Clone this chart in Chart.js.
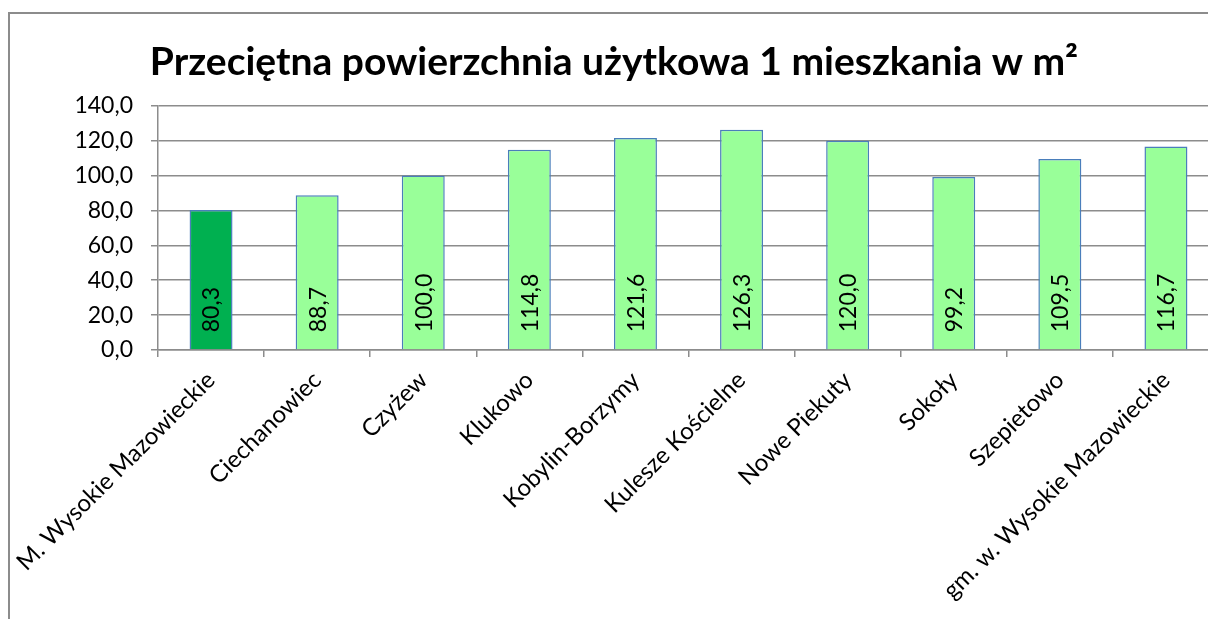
<!DOCTYPE html>
<html>
<head>
<meta charset="utf-8">
<script src="https://cdn.jsdelivr.net/npm/chart.js@4.4.1/dist/chart.umd.min.js"></script>
<style>
html, body { margin: 0; padding: 0; overflow: hidden; background: #fff; }
#wrap { position: absolute; left: 0; top: 0; width: 1228px; height: 619px; }
#frame { position: absolute; left: 8px; top: 12px; width: 1300px; height: 700px; border: 2px solid #8c8c8c; box-sizing: border-box; pointer-events: none; }
</style>
</head>
<body>
<div id="wrap"><canvas id="chart" width="1228" height="619"></canvas></div>
<div id="frame"></div>
<script>
// Data
const categories = [
    'M. Wysokie Mazowieckie', 'Ciechanowiec', 'Czyżew', 'Klukowo', 'Kobylin-Borzymy',
    'Kulesze Kościelne', 'Nowe Piekuty', 'Sokoły', 'Szepietowo', 'gm. w. Wysokie Mazowieckie'
];
const values = [80.3, 88.7, 100.0, 114.8, 121.6, 126.3, 120.0, 99.2, 109.5, 116.7];
const yMin = 0;
const yMax = 140;
const yStep = 20;
const titleText = 'Przeciętna powierzchnia użytkowa 1 mieszkania w m²';

const gridColor = '#8c8c8c';
const fontFamily = 'Lato';

function fmt(v) {
    return v.toFixed(1).replace('.', ',');
}

// Rotated value labels near the bottom of each bar
const valueLabels = {
    id: 'valueLabels',
    afterDatasetsDraw(chart) {
        const ctx = chart.ctx;
        const meta = chart.getDatasetMeta(0);
        ctx.save();
        ctx.font = '23px ' + fontFamily;
        ctx.fillStyle = '#000';
        ctx.textAlign = 'left';
        ctx.textBaseline = 'middle';
        meta.data.forEach(function(bar, i) {
            ctx.save();
            ctx.translate(bar.x + 1, bar.base - 17);
            ctx.rotate(-Math.PI / 2);
            ctx.fillText(fmt(values[i]), 0, 0);
            ctx.restore();
        });
        ctx.restore();
    }
};

const ctx = document.getElementById('chart').getContext('2d');
new Chart(ctx, {
    type: 'bar',
    data: {
        labels: categories,
        datasets: [{
            data: values,
            backgroundColor: function(c) { return c.dataIndex === 0 ? '#00b050' : '#99ff99'; },
            borderColor: '#4a7ebb',
            borderWidth: 1.5,
            barPercentage: 0.405,
            categoryPercentage: 1
        }]
    },
    options: {
        responsive: false,
        animation: false,
        devicePixelRatio: 1,
        layout: { padding: { left: 9, right: 9, top: 0, bottom: 0 } },
        plugins: {
            legend: { display: false },
            tooltip: { enabled: false },
            title: {
                display: true,
                text: titleText,
                color: '#000',
                font: { family: fontFamily, size: 39, weight: 'bold', lineHeight: 1.2 },
                padding: { top: 39, bottom: 20 }
            }
        },
        scales: {
            x: {
                offset: true,
                grid: { display: true, drawOnChartArea: false, drawTicks: true, tickLength: 7, color: gridColor, lineWidth: 1.5, offset: true },
                border: { display: true, color: gridColor, width: 1.5 },
                ticks: {
                    color: '#000',
                    font: { family: fontFamily, size: 24 },
                    minRotation: 45,
                    maxRotation: 45,
                    autoSkip: false,
                    padding: 9
                },
                afterFit: function(scale) {
                    scale.height = 269;
                    scale.paddingLeft = 0;
                    scale.paddingRight = 0;
                }
            },
            y: {
                min: yMin,
                max: yMax,
                grid: { color: gridColor, lineWidth: 1.5, tickLength: 7, drawTicks: true },
                border: { display: true, color: gridColor, width: 1.5 },
                ticks: {
                    stepSize: yStep,
                    padding: 18,
                    color: '#000',
                    font: { family: fontFamily, size: 23 },
                    callback: function(v) { return fmt(v); }
                },
                afterFit: function(scale) {
                    scale.width = 149;
                }
            }
        }
    },
    plugins: [valueLabels]
});
</script>
</body>
</html>
